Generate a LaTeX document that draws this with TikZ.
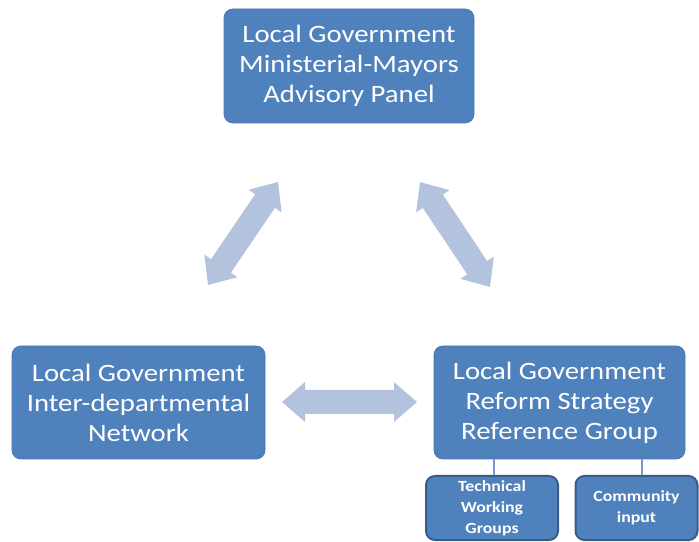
\documentclass[tikz,border=0pt]{standalone}
\usepackage{fontspec}
\setmainfont{Carlito}
\newfontfamily\widefont[FakeStretch=1.15]{Carlito}
\begin{document}
\begin{tikzpicture}[x=1pt,y=1pt,
  bigbox/.style={draw=boxedge, line width=0.8pt, fill=boxfill, rounded corners=9pt,
    text=white, align=center, inner sep=0pt,
    font=\widefont\fontsize{25}{30}\selectfont},
  smallbox/.style={draw=smalledge, line width=2pt, fill=boxfill, rounded corners=9pt,
    text=white, align=center, inner sep=0pt,
    font=\widefont\bfseries\fontsize{15.5}{21}\selectfont},
  link/.style={draw=boxfill!80!white, line width=1.2pt},
  flow/.style={fill=arrowfill}]
\definecolor{boxfill}{HTML}{4F81BD}
\definecolor{boxedge}{HTML}{4A78B0}
\definecolor{smalledge}{HTML}{385D8A}
\definecolor{arrowfill}{HTML}{B3C3DE}
\useasboundingbox (0,0) rectangle (699,541);

% double-headed block arrow: centre, angle, length
\newcommand\blockarrow[4]{%
  \begin{scope}[shift={(#1,#2)}, rotate=#3]
    \fill[flow] (-#4/2,0) -- (-#4/2+23,20) -- (-#4/2+23,12) -- (#4/2-23,12)
      -- (#4/2-23,20) -- (#4/2,0) -- (#4/2-23,-20) -- (#4/2-23,-12)
      -- (-#4/2+23,-12) -- (-#4/2+23,-20) -- cycle;
  \end{scope}}

% main bodies
\node[bigbox, minimum width=250pt, minimum height=114pt] (panel) at (349,475)
  {Local Government\\Ministerial-Mayors\\Advisory Panel};
\node[bigbox, minimum width=253pt, minimum height=113pt] (network) at (138.5,138.5)
  {Local Government\\Inter-departmental\\Network};
\node[bigbox, minimum width=251pt, minimum height=113pt] (reform) at (559.5,138.5)
  {Local Government\\Reform Strategy\\Reference Group};

% sub-groups under the reference group
\node[smallbox, minimum width=132pt, minimum height=64pt] (tech) at (492,33)
  {Technical\\Working\\Groups};
\node[smallbox, minimum width=122pt, minimum height=64pt] (comm) at (636.5,33)
  {Community\\input};

\draw[link] (reform.south -| 494,0) -- (tech.north -| 494,0);
\draw[link] (reform.south -| 642,0) -- (comm.north -| 642,0);

% relationships between the three bodies
\blockarrow{243}{307.5}{55.8}{124.5}
\blockarrow{455}{306.5}{-56.3}{126}
\blockarrow{349.5}{139}{0}{135}
\end{tikzpicture}
\end{document}
